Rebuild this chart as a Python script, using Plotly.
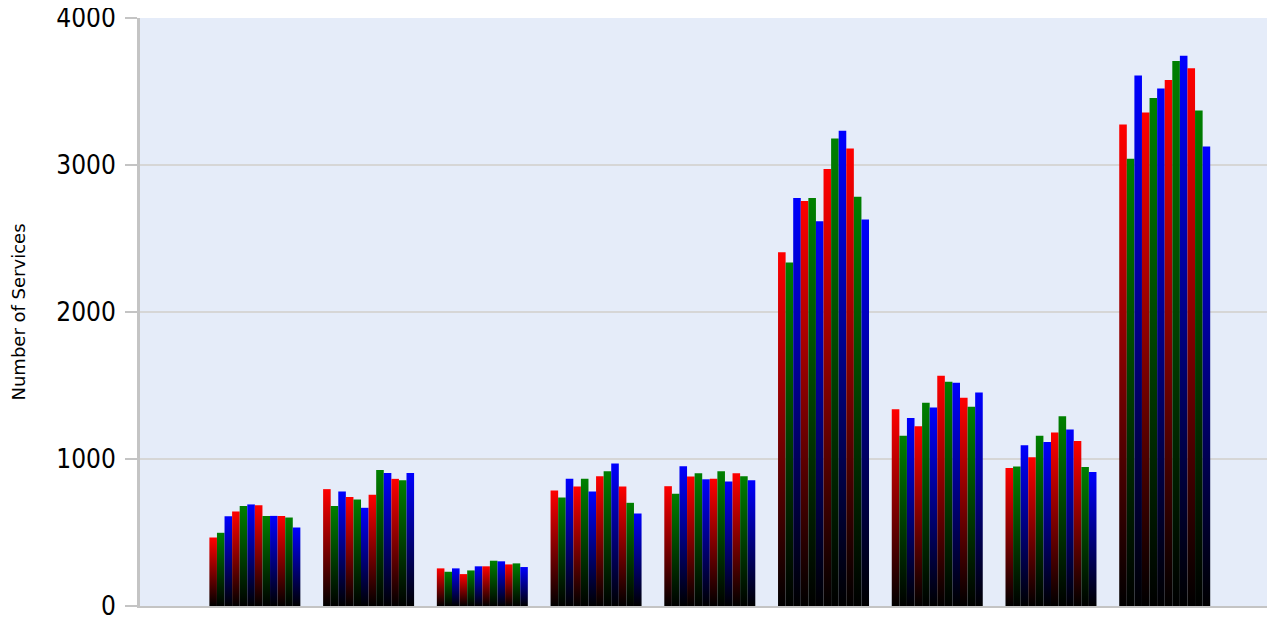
import plotly.graph_objects as go

# Nine categories (no labels shown on the x axis), twelve bars each
categories = ["C1", "C2", "C3", "C4", "C5", "C6", "C7", "C8", "C9"]

cat1 = [466, 498, 611, 643, 681, 691, 686, 613, 613, 613, 602, 534]
cat2 = [795, 681, 779, 742, 725, 668, 756, 926, 905, 865, 856, 905]
cat3 = [256, 233, 256, 217, 242, 270, 270, 308, 304, 283, 290, 265]
cat4 = [786, 738, 865, 813, 865, 779, 883, 917, 969, 813, 702, 630]
cat5 = [815, 763, 951, 881, 903, 862, 865, 917, 847, 903, 883, 856]
cat6 = [2406, 2336, 2776, 2755, 2776, 2617, 2973, 3180, 3233, 3113, 2784, 2630]
cat7 = [1338, 1159, 1279, 1222, 1383, 1351, 1567, 1526, 1519, 1417, 1356, 1453]
cat8 = [939, 949, 1093, 1012, 1159, 1116, 1180, 1290, 1200, 1123, 946, 912]
cat9 = [3275, 3042, 3608, 3357, 3455, 3520, 3579, 3708, 3744, 3658, 3370, 3126]

values = [cat1, cat2, cat3, cat4, cat5, cat6, cat7, cat8, cat9]
bar_colors = ["#ff0000", "#008000", "#0000ff"]

y_ticks = [0, 1000, 2000, 3000, 4000]
y_tick_text = ["0", "1000", "2000", "3000", "4000"]

GROUP_WIDTH = 0.8

fig = go.Figure()
for k, (cat, vals) in enumerate(zip(categories, values)):
    n = len(vals)
    w = GROUP_WIDTH / n
    for i, v in enumerate(vals):
        x0 = k - GROUP_WIDTH / 2 + i * w
        x1 = x0 + w
        col = bar_colors[i % 3]
        fig.add_trace(go.Scatter(
            x=[x0, x0, x1, x1, x0],
            y=[0, v, v, 0, 0],
            mode="none",
            fill="toself",
            fillcolor=col,
            fillgradient=dict(
                type="vertical",
                start=0,
                stop=v,
                colorscale=[[0, "#000000"], [1, col]],
            ),
            hoveron="fills",
            name=f"{cat} #{i + 1}: {v}",
            showlegend=False,
        ))

fig.update_layout(
    width=1275,
    height=620,
    margin=dict(l=132, r=0, t=10, b=22),
    paper_bgcolor="#ffffff",
    plot_bgcolor="#e5ecf9",
    font=dict(family="DejaVu Sans Condensed, DejaVu Sans, sans-serif", color="#000000"),
    showlegend=False,
)
fig.update_xaxes(
    range=[-1.01, 9.04],
    showticklabels=False,
    ticks="",
    showgrid=False,
    zeroline=False,
    showline=True,
    linecolor="#c4c4c4",
    linewidth=2,
    automargin=False,
)
fig.update_yaxes(
    range=[0, 4000],
    tickvals=y_ticks,
    ticktext=y_tick_text,
    ticks="outside",
    ticklen=12,
    tickwidth=2,
    tickcolor="#c4c4c4",
    tickfont=dict(size=26, family="DejaVu Sans Condensed, DejaVu Sans, sans-serif"),
    ticklabelstandoff=4,
    ticklabeloverflow="allow",
    showgrid=True,
    gridcolor="#d6d6d6",
    gridwidth=2,
    zeroline=False,
    showline=True,
    linecolor="#c4c4c4",
    linewidth=3,
    automargin=False,
    title=dict(
        text="Number of Services",
        font=dict(size=18, family="DejaVu Sans, sans-serif"),
        standoff=35,
    ),
)

fig.write_html("out.html")
